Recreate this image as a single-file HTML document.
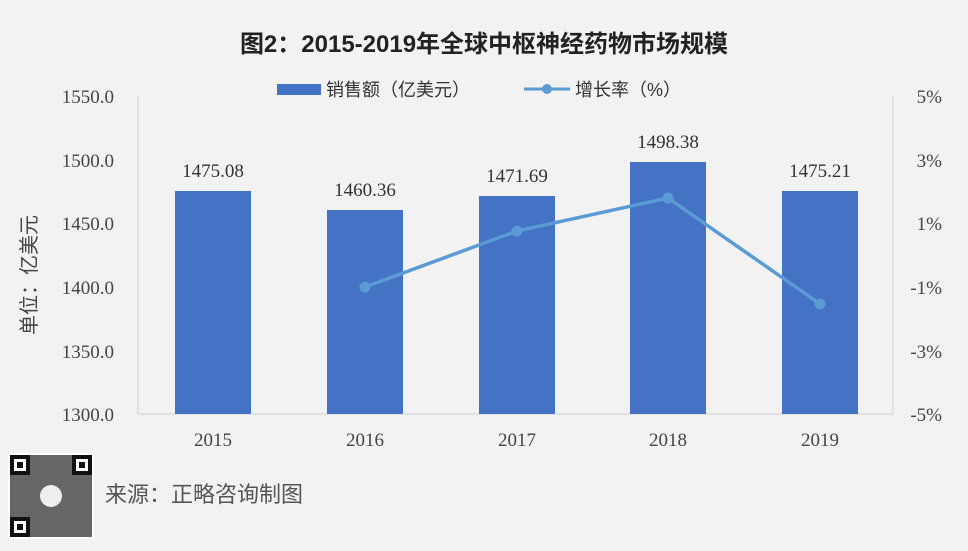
<!DOCTYPE html>
<html><head><meta charset="utf-8"><style>
body{margin:0;background:#f2f2f2}
svg{display:block}
text{font-family:"Liberation Serif","Noto Serif CJK SC",serif}
.c{font-family:"Liberation Sans","Noto Sans CJK SC",sans-serif}
</style></head><body>
<svg width="968" height="551" viewBox="0 0 968 551">
<rect width="968" height="551" fill="#f2f2f2"/>
<text x="484" y="52" class="c" font-size="24" font-weight="bold" fill="#222" text-anchor="middle">图2：2015-2019年全球中枢神经药物市场规模</text>
<rect x="277" y="84" width="44" height="11" fill="#4472c4"/>
<text x="326" y="96" class="c" font-size="18" fill="#333">销售额（亿美元）</text>
<line x1="524" y1="89" x2="570" y2="89" stroke="#5b9bd5" stroke-width="3"/>
<circle cx="547" cy="89" r="5" fill="#5b9bd5"/>
<text x="575" y="96" class="c" font-size="18" fill="#333">增长率（%）</text>
<g fill="none" stroke="#d0d0d0" stroke-width="1">
<line x1="138" y1="96" x2="138" y2="414"/>
<line x1="893" y1="96" x2="893" y2="414"/>
<line x1="138" y1="414" x2="893" y2="414"/>
</g>
<g font-size="19" fill="#444" text-anchor="end">
<text x="114" y="103">1550.0</text><text x="114" y="167">1500.0</text><text x="114" y="230">1450.0</text>
<text x="114" y="294">1400.0</text><text x="114" y="358">1350.0</text><text x="114" y="421">1300.0</text>
</g>
<g font-size="19" fill="#444" text-anchor="end">
<text x="942" y="103">5%</text><text x="942" y="167">3%</text><text x="942" y="230">1%</text>
<text x="942" y="294">-1%</text><text x="942" y="358">-3%</text><text x="942" y="421">-5%</text>
</g>
<text transform="translate(36,275) rotate(-90)" class="c" font-size="20" fill="#444" text-anchor="middle">单位：亿美元</text>
<g fill="#4472c4">
<rect x="175" y="191" width="76" height="223"/>
<rect x="327" y="210" width="76" height="204"/>
<rect x="479" y="196" width="76" height="218"/>
<rect x="630" y="162" width="76" height="252"/>
<rect x="782" y="191" width="76" height="223"/>
</g>
<g font-size="19" fill="#333" text-anchor="middle">
<text x="213" y="177">1475.08</text><text x="365" y="196">1460.36</text><text x="517" y="182">1471.69</text>
<text x="668" y="148">1498.38</text><text x="820" y="177">1475.21</text>
</g>
<polyline points="365,287 517,231 668,198 820,304" fill="none" stroke="#5b9bd5" stroke-width="3.5"/>
<g fill="#5b9bd5"><circle cx="365" cy="287" r="5.5"/><circle cx="517" cy="231" r="5.5"/><circle cx="668" cy="198" r="5.5"/><circle cx="820" cy="304" r="5.5"/></g>
<g font-size="19" fill="#444" text-anchor="middle">
<text x="213" y="446">2015</text><text x="365" y="446">2016</text><text x="517" y="446">2017</text><text x="668" y="446">2018</text><text x="820" y="446">2019</text>
</g>
<g>
<rect x="8" y="453" width="86" height="86" fill="#fff"/>
<rect x="10" y="455" width="82" height="82" fill="#666"/>
<rect x="10" y="455" width="20" height="20" fill="#111"/><rect x="14" y="459" width="12" height="12" fill="#fff"/><rect x="17" y="462" width="6" height="6" fill="#111"/>
<rect x="72" y="455" width="20" height="20" fill="#111"/><rect x="76" y="459" width="12" height="12" fill="#fff"/><rect x="79" y="462" width="6" height="6" fill="#111"/>
<rect x="10" y="517" width="20" height="20" fill="#111"/><rect x="14" y="521" width="12" height="12" fill="#fff"/><rect x="17" y="524" width="6" height="6" fill="#111"/>
<circle cx="51" cy="496" r="11" fill="#eee"/>
</g>
<text x="105" y="502" class="c" font-size="22" fill="#555">来源：正略咨询制图</text>
</svg>
</body></html>
